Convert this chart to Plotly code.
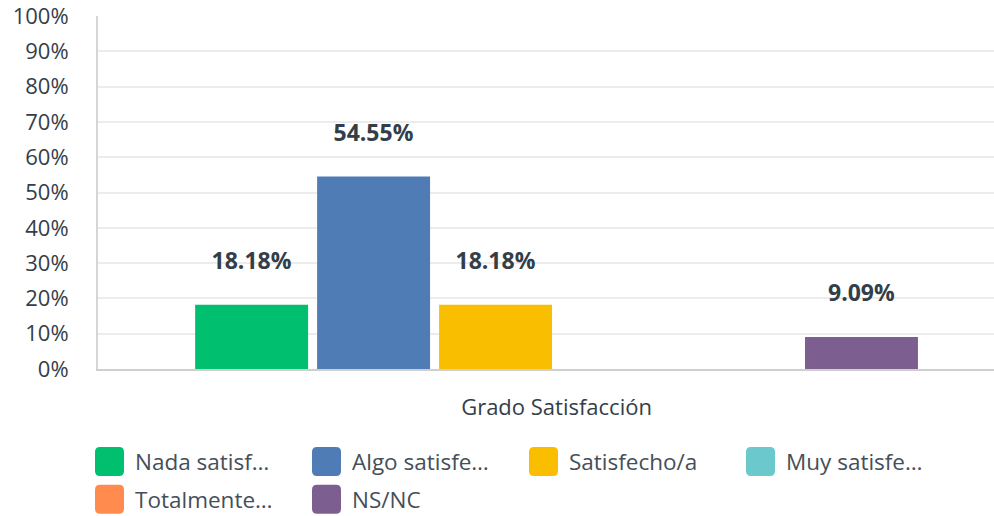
import plotly.graph_objects as go

categories = ["Grado Satisfacción"]
series_names = ["Nada satisf…", "Algo satisfe…", "Satisfecho/a", "Muy satisfe…", "Totalmente…", "NS/NC"]
values = [18.18, 54.55, 18.18, 0.0, 0.0, 9.09]
colors = ["#00bf6f", "#507cb6", "#f9be00", "#6bc8cd", "#ff8b4f", "#7d5e90"]
y_ticks = [0, 10, 20, 30, 40, 50, 60, 70, 80, 90, 100]
y_tick_labels = [f"{t}%" for t in y_ticks]

FONT = "Open Sans, sans-serif"
TXT = "#333e48"

W, H = 994, 516
ML, MR, MT, MB = 98, 0, 14, 516 - 369

fig = go.Figure()
for name, v, c in zip(series_names, values, colors):
    fig.add_trace(go.Bar(
        x=categories, y=[v], name=name, marker_color=c, marker_line_width=0,
        text=[f"<b>{v:.2f}%</b><br><span style='font-size:10px'> </span>" if v > 0 else ""],
        textposition="outside", cliponaxis=False,
        textfont=dict(family=FONT, size=23, color=TXT),
        showlegend=False,
    ))

fig.update_layout(
    width=W, height=H,
    margin=dict(l=ML, r=MR, t=MT, b=MB),
    paper_bgcolor="white", plot_bgcolor="white",
    barmode="group", bargap=0.202, bargroupgap=0.074,
    font=dict(family=FONT, color=TXT),
    showlegend=False,
)
fig.update_xaxes(
    range=[-0.5, 0.477], showgrid=False, zeroline=False,
    showline=True, linecolor="#cfcfcf", linewidth=2,
    ticks="", ticklabelstandoff=18,
    tickfont=dict(family=FONT, size=22, color=TXT),
)
fig.update_yaxes(
    range=[0, 100], tickvals=y_ticks, ticktext=y_tick_labels,
    showgrid=True, gridcolor="#ececec", gridwidth=2, zeroline=False,
    showline=True, linecolor="#d6d6d6", linewidth=2,
    ticks="", ticklabelstandoff=23, ticklabeloverflow="allow",
    tickfont=dict(family=FONT, size=22, color=TXT),
)

# legend: rounded swatches + labels, laid out in a 4-column grid
plot_w = W - ML - MR
plot_h = H - MT - MB
cols = 4
col_w = 217
row_h = 38
x0_px, y0_px = 109.5, 462
r = 5
half = 14.5
path = (f"M{-half+r},{-half} L{half-r},{-half} Q{half},{-half} {half},{-half+r} "
        f"L{half},{half-r} Q{half},{half} {half-r},{half} L{-half+r},{half} "
        f"Q{-half},{half} {-half},{half-r} L{-half},{-half+r} Q{-half},{-half} {-half+r},{-half} Z")
for i, (name, c) in enumerate(zip(series_names, colors)):
    cx = x0_px + (i % cols) * col_w
    cy = y0_px + (i // cols) * row_h
    px = (cx - ML) / plot_w
    py = (H - MB - cy) / plot_h
    fig.add_shape(type="path", xref="paper", yref="paper",
                  xsizemode="pixel", ysizemode="pixel",
                  xanchor=px, yanchor=py, path=path,
                  fillcolor=c, line=dict(width=0))
    fig.add_annotation(xref="paper", yref="paper", x=(cx + 23 - ML) / plot_w, y=py,
                       text=name, showarrow=False, xanchor="left", yanchor="middle",
                       font=dict(family=FONT, size=22.5, color="#454f59"))

fig.write_html("out.html", config={"displayModeBar": False},
               post_script="document.body.style.margin='0';")
